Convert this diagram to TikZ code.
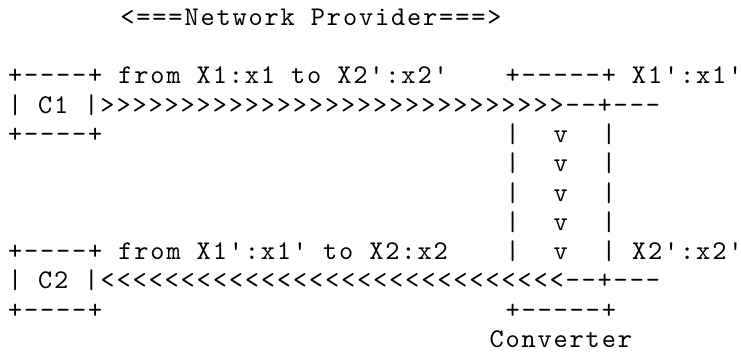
\documentclass[tikz,border=0pt]{standalone}
\usepackage{fontspec}
\newfontfamily\asciifont{lmmono10-regular.otf}[LetterSpace=6.9]
\begin{document}
\begin{tikzpicture}[x=16.05bp, y=-29.3bp,
  art/.style={anchor=base west, inner sep=0pt, outer sep=0pt,
    font=\asciifont\fontsize{27bp}{29.3bp}\selectfont, text=black}]
\useasboundingbox[fill=white] (0bp,0bp) rectangle (741bp,-352bp);
\begin{scope}[shift={(8bp,-25.2bp)}]
% row 0
\node[art] (title) at (7,0) {<===Network Provider===>};
% row 2
\node[art] (c1top) at (0,2) {+----+ from X1:x1 to X2':x2'};
\node[art] (convtop) at (31,2) {+-----+ X1':x1'\kern-8bp};
% row 3
\node[art] (c1mid) at (0,3) {| C1 |>>>>>>>>>>>>>>>>>>>>>>>>>>>>>--+---};
% row 4
\node[art] (c1bot) at (0,4) {+----+};
% rows 4-8: converter sides and arrows
\foreach \r in {4,...,8} {
  \node[art] (convl\r) at (31,\r) {|};
  \node[art] (convv\r) at (34,\r) {v};
}
\foreach \r in {4,...,7} {
  \node[art] (convr\r) at (37,\r) {|};
}
% row 8
\node[art] (c2top) at (0,8) {+----+ from X1':x1' to X2:x2};
\node[art] (convr8) at (37,8) {| X2':x2'\kern-8bp};
% row 9
\node[art] (c2mid) at (0,9) {| C2 |<<<<<<<<<<<<<<<<<<<<<<<<<<<<<--+---};
% row 10
\node[art] (c2bot) at (0,10) {+----+};
\node[art] (convbot) at (31,10) {+-----+};
% row 11
\node[art] (convlabel) at (30,11) {Converter};
\end{scope}
\end{tikzpicture}
\end{document}
